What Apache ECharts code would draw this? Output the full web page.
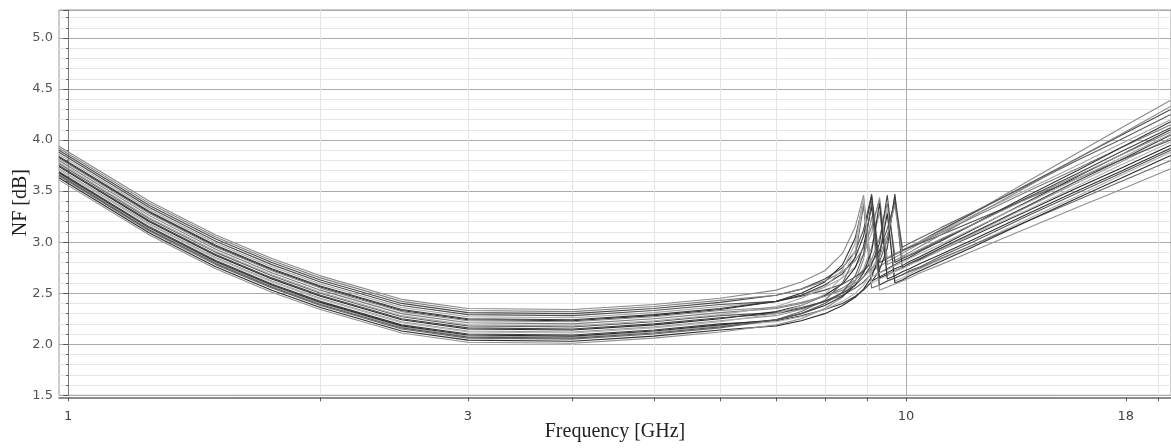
<!DOCTYPE html>
<html><head><meta charset="utf-8">
<script src="https://cdn.jsdelivr.net/npm/echarts@6/dist/echarts.min.js"></script>
<style>html,body{margin:0;padding:0;background:#fff}#c{width:1171px;height:448px}</style>
</head><body><div id="c"></div>
<script>
// Frequency grid (GHz) shared by all Monte-Carlo traces
const freqGHz = [0.975, 1.25, 1.5, 1.75, 2, 2.5, 3, 4, 5, 6, 7, 7.5, 8, 8.4, 8.7, 8.9, 9.1, 9.3, 9.5, 9.7, 9.9, 10.1, 10.4, 11, 12, 14, 16, 18, 20.7];
// NF [dB] traces
const mc01 = [3.94,3.40,3.07,2.84,2.67,2.44,2.35,2.34,2.39,2.45, 2.53,2.61,2.72,2.89,3.15,3.46, 2.72,2.76,2.81,2.85,2.89,2.93,2.99,3.11,3.28,3.60,3.87,4.11,4.39];
const mc02 = [3.90,3.36,3.03,2.80,2.63,2.40,2.31,2.30,2.35,2.41, 2.48,2.54,2.64,2.75,2.91,3.12,3.47, 2.80,2.84,2.88,2.92,2.95,3.01,3.12,3.28,3.57,3.82,4.04,4.30];
const mc03 = [3.86,3.32,2.99,2.76,2.59,2.36,2.27,2.26,2.31,2.37, 2.42,2.48,2.56,2.65,2.76,2.88,3.09,3.44, 2.85,2.89,2.92,2.96,3.01,3.10,3.26,3.52,3.75,3.96,4.20];
const mc04 = [3.83,3.29,2.96,2.73,2.56,2.33,2.24,2.23,2.28,2.34, 2.42,2.50,2.61,2.78,3.04,3.40, 2.62,2.66,2.70,2.74,2.77,2.81,2.86,2.96,3.12,3.40,3.64,3.85,4.10];
const mc05 = [3.80,3.26,2.93,2.70,2.53,2.30,2.21,2.20,2.25,2.31, 2.35,2.40,2.47,2.55,2.63,2.71,2.83,3.04,3.38, 2.88,2.91,2.95,3.00,3.09,3.24,3.50,3.72,3.92,4.15];
const mc06 = [3.77,3.23,2.90,2.67,2.50,2.27,2.18,2.17,2.22,2.28, 2.31,2.36,2.42,2.48,2.55,2.61,2.69,2.81,3.02,3.45, 2.95,2.99,3.04,3.14,3.29,3.56,3.80,4.00,4.25];
const mc07 = [3.74,3.20,2.87,2.64,2.47,2.24,2.15,2.14,2.19,2.25, 2.32,2.38,2.48,2.59,2.75,2.96,3.35, 2.65,2.68,2.72,2.75,2.78,2.83,2.92,3.06,3.31,3.53,3.72,3.95];
const mc08 = [3.72,3.18,2.85,2.62,2.45,2.22,2.13,2.12,2.17,2.23, 2.28,2.34,2.42,2.51,2.62,2.74,2.95,3.30, 2.68,2.72,2.75,2.79,2.84,2.93,3.08,3.35,3.58,3.78,4.02];
const mc09 = [3.69,3.15,2.82,2.59,2.42,2.19,2.10,2.09,2.14,2.20, 2.23,2.28,2.34,2.40,2.47,2.53,2.61,2.73,2.94,3.47, 2.75,2.79,2.84,2.94,3.09,3.36,3.60,3.80,4.05];
const mc10 = [3.67,3.13,2.80,2.57,2.40,2.17,2.08,2.07,2.12,2.18, 2.22,2.27,2.34,2.42,2.50,2.58,2.70,2.91,3.33, 2.62,2.65,2.69,2.74,2.83,2.97,3.23,3.45,3.65,3.88];
const mc11 = [3.65,3.11,2.78,2.55,2.38,2.15,2.06,2.05,2.10,2.16, 2.24,2.32,2.43,2.60,2.86,3.36, 2.55,2.58,2.62,2.65,2.68,2.71,2.75,2.84,2.97,3.21,3.41,3.59,3.80];
const mc12 = [3.63,3.09,2.76,2.53,2.36,2.13,2.04,2.03,2.08,2.14, 2.18,2.23,2.30,2.38,2.46,2.54,2.66,2.87,3.28, 2.60,2.63,2.67,2.72,2.81,2.95,3.21,3.43,3.62,3.85];
const mc13 = [3.61,3.07,2.74,2.51,2.34,2.11,2.02,2.01,2.06,2.12, 2.19,2.25,2.35,2.46,2.62,2.83,3.25, 2.53,2.56,2.59,2.62,2.65,2.70,2.78,2.91,3.14,3.34,3.51,3.72];
const mc14 = [3.88,3.34,3.01,2.78,2.61,2.38,2.29,2.28,2.33,2.39, 2.42,2.47,2.53,2.59,2.66,2.72,2.80,2.92,3.13,3.40, 2.92,2.95,2.99,3.07,3.20,3.43,3.62,3.80,4.00];
const mc15 = [3.92,3.38,3.05,2.82,2.65,2.42,2.33,2.32,2.37,2.43, 2.48,2.54,2.62,2.71,2.82,2.94,3.15,3.42, 2.78,2.82,2.86,2.90,2.96,3.07,3.25,3.55,3.82,4.05,4.33];
const mc16 = [3.84,3.30,2.97,2.74,2.57,2.34,2.25,2.24,2.29,2.35, 2.42,2.48,2.58,2.69,2.85,3.06,3.45, 2.70,2.74,2.78,2.82,2.85,2.91,3.01,3.17,3.46,3.70,3.92,4.18];
const mc17 = [3.78,3.24,2.91,2.68,2.51,2.28,2.19,2.18,2.23,2.29, 2.37,2.45,2.56,2.73,2.99,3.44, 2.66,2.70,2.73,2.77,2.80,2.84,2.89,2.98,3.13,3.39,3.62,3.82,4.06];
const mc18 = [3.75,3.21,2.88,2.65,2.48,2.25,2.16,2.15,2.20,2.26, 2.30,2.35,2.42,2.50,2.58,2.66,2.78,2.99,3.46, 2.80,2.84,2.87,2.92,3.02,3.17,3.44,3.67,3.88,4.12];
const mc19 = [3.71,3.17,2.84,2.61,2.44,2.21,2.12,2.11,2.16,2.22, 2.30,2.38,2.49,2.66,2.92,3.42, 2.60,2.64,2.67,2.71,2.74,2.78,2.82,2.92,3.07,3.32,3.55,3.75,3.98];
const mc20 = [3.68,3.14,2.81,2.58,2.41,2.18,2.09,2.08,2.13,2.19, 2.24,2.30,2.38,2.47,2.58,2.70,2.91,3.38, 2.64,2.67,2.71,2.74,2.79,2.88,3.02,3.28,3.50,3.69,3.92];
const mc21 = [3.82,3.28,2.95,2.72,2.55,2.32,2.23,2.22,2.27,2.33, 2.36,2.41,2.47,2.53,2.60,2.66,2.74,2.86,3.07,3.36, 2.85,2.88,2.93,3.03,3.17,3.43,3.65,3.85,4.08];
const mc22 = [3.66,3.12,2.79,2.56,2.39,2.16,2.07,2.06,2.11,2.17, 2.24,2.30,2.40,2.51,2.67,2.88,3.40, 2.58,2.62,2.65,2.68,2.72,2.76,2.86,3.00,3.26,3.48,3.67,3.90];

// Axis ticks / labels
const xTickFreqs = [1, 2, 3, 4, 5, 6, 7, 8, 9, 10, 18.3, 20];
const xLabelFreqs = [1, 3, 10, 18.3];
const xLabelTexts = ['1', '3', '10', '18'];
const xRange = [0.975, 20.72];
const yRange = [1.5, 5.274];
const yStep = 0.5;

const curves = [mc01, mc02, mc03, mc04, mc05, mc06, mc07, mc08, mc09, mc10, mc11,
                mc12, mc13, mc14, mc15, mc16, mc17, mc18, mc19, mc20, mc21, mc22];
const curveColors = ['#8a8a8a','#4a4a4a','#a5a5a5','#303030','#7c7c7c','#5e5e5e','#262626','#989898','#3c3c3c','#adadad','#6a6a6a',
                     '#2c2c2c','#909090','#505050','#808080','#383838','#a8a8a8','#444444','#b2b2b2','#2e2e2e','#898989','#585858'];
const xGridColors = ['#aaaaaa','#e4e4e4','#e4e4e4','#e4e4e4','#e4e4e4','#e4e4e4','#e4e4e4','#e4e4e4','#e4e4e4','#aaaaaa','rgba(0,0,0,0)','#e4e4e4'];

const lg = v => Math.log10(v);
const chart = echarts.init(document.getElementById('c'), null, {renderer: 'canvas'});
const series = curves.map((vals, i) => ({
  type: 'line',
  data: freqGHz.map((f, j) => [lg(f), vals[j]]),
  showSymbol: false, symbol: 'none', silent: true, clip: true,
  lineStyle: {width: 1.1, color: curveColors[i]},
  itemStyle: {color: curveColors[i]},
  emphasis: {disabled: true}
}));

chart.setOption({
  animation: false,
  backgroundColor: '#ffffff',
  grid: {left: 59, right: 0, top: 10, bottom: 52.7, containLabel: false, outerBoundsMode: 'none',
         show: true, borderColor: '#999999', borderWidth: 1, backgroundColor: 'transparent'},
  xAxis: {
    type: 'value', min: lg(xRange[0]), max: lg(xRange[1]),
    offset: 2,
    name: 'Frequency [GHz]', nameLocation: 'middle', nameGap: 24, nameMoveOverlap: false,
    nameTextStyle: {fontFamily: 'Liberation Serif', fontSize: 20, color: '#222', verticalAlign: 'top'},
    axisLine: {show: true, onZero: false, lineStyle: {color: '#666', width: 1.5}},
    axisTick: {show: true, length: 4, customValues: xTickFreqs.map(lg), lineStyle: {color: '#555'}},
    axisLabel: {show: true, customValues: xLabelFreqs.map(lg), margin: 13, fontFamily: 'DejaVu Sans', fontSize: 13, color: '#444',
      formatter: v => { const k = xLabelFreqs.findIndex(f => Math.abs(lg(f) - v) < 1e-6); return k >= 0 ? xLabelTexts[k] : ''; }},
    splitLine: {show: true, lineStyle: {color: xGridColors, width: 1}}
  },
  yAxis: {
    type: 'value', min: yRange[0], max: yRange[1], interval: yStep,
    name: 'NF [dB]', nameLocation: 'middle', nameGap: 28, nameMoveOverlap: false,
    nameTextStyle: {fontFamily: 'Liberation Serif', fontSize: 20, color: '#222'},
    axisLine: {show: true, lineStyle: {color: '#777', width: 1}},
    axisTick: {show: true, length: 5, lineStyle: {color: '#555'}},
    minorTick: {show: true, splitNumber: 5, length: 2, lineStyle: {color: '#555'}},
    axisLabel: {margin: 6, fontFamily: 'DejaVu Sans', fontSize: 13, color: '#555', showMaxLabel: false,
      formatter: v => v.toFixed(1)},
    splitLine: {show: true, lineStyle: {color: '#aaaaaa', width: 1}},
    minorSplitLine: {show: true, lineStyle: {color: '#e6e6e6', width: 1}}
  },
  series: series
});
</script></body></html>
